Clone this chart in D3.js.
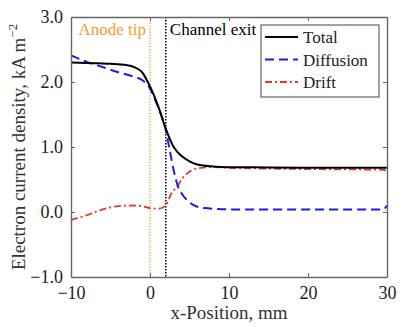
<!DOCTYPE html>
<html lang="en">
<head>
  <meta charset="UTF-8">
  <title>Electron current density</title>
  <script src="https://d3js.org/d3.v7.min.js"></script>
  <style>
    body { margin: 0; background: #fff; }
    svg { display: block; }
  </style>
</head>
<body>
  <svg width="409" height="327"></svg>
  <script>
    // values
    const totalX = [-10, -7, -5, -3, -2, -1, 0, 1, 2, 3, 4, 5, 6, 8, 10, 15, 20, 25, 30];
    const totalY = [2.30, 2.29, 2.28, 2.26, 2.23, 2.15, 1.93, 1.64, 1.28, 1.00, 0.86, 0.78, 0.73, 0.70, 0.69, 0.685, 0.68, 0.68, 0.68];

    const diffX = [-10, -8, -6, -4, -2, -1, 0, 1, 2, 2.5, 3, 3.5, 4, 5, 6, 7, 8, 10, 20, 29.5, 30];
    const diffY = [2.41, 2.31, 2.23, 2.15, 2.08, 2.03, 1.90, 1.62, 1.26, 0.95, 0.64, 0.41, 0.29, 0.15, 0.08, 0.06, 0.05, 0.04, 0.04, 0.04, 0.10];

    const driftX = [-10, -8, -6, -4, -2, -1, 0, 1, 2, 2.3, 2.6, 3, 3.5, 4, 4.5, 5, 6, 8, 10, 20, 29.5, 30];
    const driftY = [-0.12, -0.05, 0.04, 0.09, 0.10, 0.09, 0.06, 0.05, 0.10, 0.17, 0.26, 0.33, 0.40, 0.50, 0.57, 0.62, 0.67, 0.69, 0.68, 0.66, 0.65, 0.62];

    const xTicks = [-10, 0, 10, 20, 30];
    const yTicks = [-1, 0, 1, 2, 3];
    const anodeTip = 0;
    const channelExit = 2;

    const FONT = "'Liberation Serif', 'DejaVu Serif', serif";

    const svg = d3.select('svg');
    const m = { left: 71, right: 22, top: 17, bottom: 50 };
    const W = 409, H = 327;

    const x = d3.scaleLinear().domain([-10, 30]).range([m.left, W - m.right]);
    const y = d3.scaleLinear().domain([-1, 3]).range([H - m.bottom, m.top]);

    // markers for anode tip / channel exit
    svg.append('line')
      .attr('x1', x(anodeTip)).attr('x2', x(anodeTip))
      .attr('y1', y(3)).attr('y2', y(-1))
      .attr('stroke', '#f39c2b').attr('stroke-width', 1.3)
      .attr('stroke-dasharray', '1.3,1.6');
    svg.append('line')
      .attr('x1', x(channelExit)).attr('x2', x(channelExit))
      .attr('y1', y(3)).attr('y2', y(-1))
      .attr('stroke', '#000').attr('stroke-width', 1.5)
      .attr('stroke-dasharray', '1.5,1.5');

    svg.append('text')
      .attr('x', x(anodeTip) - 4).attr('y', 35)
      .attr('text-anchor', 'end')
      .style('font-family', FONT)
      .style('font-size', '17px').attr('fill', '#f39c2b')
      .text('Anode tip');
    svg.append('text')
      .attr('x', x(channelExit) + 4).attr('y', 35)
      .style('font-family', FONT)
      .style('font-size', '17px').attr('fill', '#000')
      .text('Channel exit');

    const line = d3.line()
      .x(d => x(d[0])).y(d => y(d[1]))
      .curve(d3.curveMonotoneX);

    const series = [
      { name: 'Total', xs: totalX, ys: totalY, color: '#000', dash: null, w: 2 },
      { name: 'Diffusion', xs: diffX, ys: diffY, color: '#1a1aee', dash: '9,5', w: 2 },
      { name: 'Drift', xs: driftX, ys: driftY, color: '#e8352b', dash: '7,3,2,3', w: 1.8 }
    ];

    const plot = svg.append('g');
    // draw drift and diffusion under total
    [series[2], series[1], series[0]].forEach(s => {
      plot.append('path')
        .datum(s.xs.map((v, i) => [v, s.ys[i]]))
        .attr('fill', 'none')
        .attr('stroke', s.color)
        .attr('stroke-width', s.w)
        .attr('stroke-dasharray', s.dash)
        .attr('d', line);
    });

    // axes with inward ticks on all four sides
    const fmt = d3.format('.1f');
    svg.append('g').attr('class', 'axis')
      .attr('transform', `translate(0,${y(-1)})`)
      .call(d3.axisBottom(x).tickValues(xTicks).tickSizeInner(-4).tickSizeOuter(0).tickPadding(9).tickFormat(d3.format('d')));
    svg.append('g').attr('class', 'axis')
      .attr('transform', `translate(0,${y(3)})`)
      .call(d3.axisTop(x).tickValues(xTicks).tickSizeInner(-4).tickSizeOuter(0).tickFormat(''));
    svg.append('g').attr('class', 'axis')
      .attr('transform', `translate(${x(-10)},0)`)
      .call(d3.axisLeft(y).tickValues(yTicks).tickSizeInner(-4).tickSizeOuter(0).tickPadding(8).tickFormat(fmt));
    svg.append('g').attr('class', 'axis')
      .attr('transform', `translate(${x(30)},0)`)
      .call(d3.axisRight(y).tickValues(yTicks).tickSizeInner(-4).tickSizeOuter(0).tickFormat(''));
    svg.selectAll('.axis path, .axis line').attr('stroke', '#666');
    svg.selectAll('.axis path').attr('stroke-width', 1.4);
    svg.selectAll('.axis text')
      .style('font-family', FONT).style('font-size', '18px').attr('fill', '#222');

    // axis titles
    svg.append('text')
      .attr('x', (x(-10) + x(30)) / 2).attr('y', 319)
      .attr('text-anchor', 'middle').attr('fill', '#333')
      .style('font-family', FONT).style('font-size', '19px')
      .text('x-Position, mm');
    const yl = svg.append('text')
      .attr('transform', `translate(25,${(y(-1) + y(3)) / 2}) rotate(-90)`)
      .style('font-family', FONT).style('font-size', '19px')
      .attr('text-anchor', 'middle').attr('fill', '#333');
    yl.append('tspan').text('Electron current density, kA m');
    yl.append('tspan').attr('dy', -8).style('font-size', '13px').text('\u22122');

    // legend
    const lg = svg.append('g').attr('transform', 'translate(261,25)');
    lg.append('rect').attr('width', 118).attr('height', 72)
      .attr('fill', '#fff').attr('stroke', '#666').attr('stroke-width', 1.2);
    series.forEach((s, i) => {
      const cy = 12 + i * 22.5;
      lg.append('line')
        .attr('x1', 4).attr('x2', 37).attr('y1', cy).attr('y2', cy)
        .attr('stroke', s.color).attr('stroke-width', s.w)
        .attr('stroke-dasharray', s.dash);
      lg.append('text')
        .attr('x', 42).attr('y', cy + 6)
        .style('font-family', FONT).style('font-size', '17px')
        .attr('fill', '#222')
        .text(s.name);
    });
  </script>
</body>
</html>
